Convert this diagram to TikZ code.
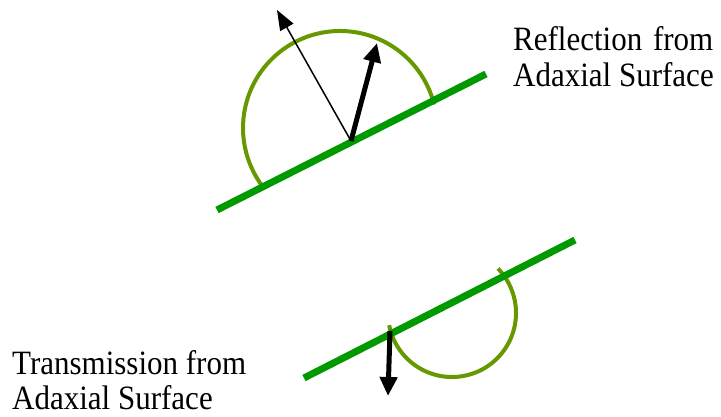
\documentclass[tikz,border=0pt]{standalone}
\usepackage{fontspec}
\setmainfont[Ligatures=NoCommon]{Liberation Serif}
\usetikzlibrary{arrows.meta}
\definecolor{leafgreen}{RGB}{0,153,0}
\definecolor{arcolive}{RGB}{102,153,0}
\begin{document}
\begin{tikzpicture}[x=1pt,y=1pt,
  leaf/.style={draw=leafgreen,line width=7pt},
  lobe/.style={draw=arcolive,line width=4pt},
  thinarrow/.style={draw=black,line width=1.5pt,-{Triangle[length=20pt,width=15pt]}},
  thickarrow/.style={draw=black,line width=5pt,-{Triangle[length=19pt,width=17pt]}},
  label/.style={font=\fontsize{31}{32.5}\selectfont,align=left,inner sep=0pt,anchor=north west,yscale=1.1,transform shape}]
\useasboundingbox (0,0) rectangle (721,417);
% top leaf
\coordinate (t1) at (217,207);
\coordinate (t2) at (486,343);
\coordinate (tc) at (340,289);
\coordinate (to) at (351,276);
\coordinate (tthin) at (277,407);
\coordinate (tthick) at (377,374);
\draw[lobe] (tc) ++(14:97) arc[start angle=14,end angle=217.5,radius=97];
\draw[leaf] (t1) -- (t2);
\draw[thinarrow] (to) -- (tthin);
\draw[thickarrow] (to) -- (tthick);
% bottom leaf
\coordinate (b1) at (304,39);
\coordinate (b2) at (575,177);
\coordinate (bc) at (452,104);
\coordinate (bo) at (390,86);
\coordinate (btip) at (388,21);
\draw[lobe] (bc) ++(191:64) arc[start angle=191,end angle=404,radius=64];
\draw[leaf] (b1) -- (b2);
\draw[thickarrow] (bo) -- (btip);
% labels
\node[label] (refl) at (513,390.3) {Reflection\hspace{3pt} from\\Adaxial Surface};
\node[label] (trans) at (12,67) {Transmission from\\Adaxial Surface};
\end{tikzpicture}
\end{document}
